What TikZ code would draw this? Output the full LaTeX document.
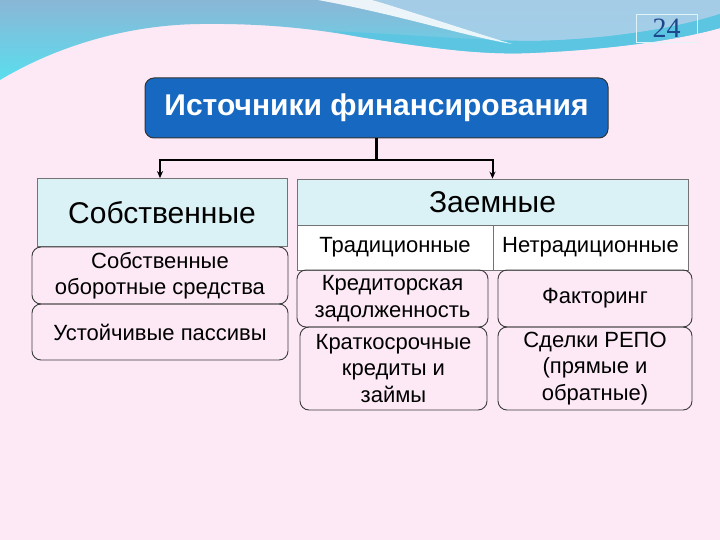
\documentclass[tikz,border=0pt]{standalone}
\usepackage{fontspec}
\setmainfont{Liberation Sans}
\newfontfamily\numfont{Liberation Serif}
\usetikzlibrary{arrows.meta}
\definecolor{bgpink}{RGB}{252,233,245}
\definecolor{hdrcyan}{RGB}{218,242,246}
\definecolor{titleblue}{RGB}{22,104,192}
\definecolor{wavetop}{RGB}{138,182,214}
\definecolor{wavebot}{RGB}{90,222,238}
\definecolor{wavelight}{RGB}{170,208,234}
\definecolor{wavestripe}{RGB}{92,198,226}
\definecolor{numblue}{RGB}{30,70,140}
\definecolor{boxline}{RGB}{60,60,60}
\tikzset{
  hdrbox/.style={draw=black!55, line width=0.8pt, fill=hdrcyan, inner sep=0pt, align=center, font=\fontsize{30}{34}\selectfont},
  cellbox/.style={draw=black!55, line width=0.8pt, fill=white, inner sep=0pt, align=center, font=\fontsize{22}{26.5}\selectfont},
  subbox/.style={draw=boxline, line width=0.9pt, rounded corners=9pt, inner sep=0pt, align=center, font=\fontsize{22}{26.5}\selectfont},
  conn/.style={line width=2.6pt, black},
  arr/.style={line width=2pt, black, -{Stealth[length=7pt,width=6pt]}}
}
\begin{document}
\begin{tikzpicture}[x=1pt,y=-1pt]
\useasboundingbox (0,0) rectangle (720,540);
\fill[bgpink] (0,0) rectangle (720,540);
% top wave
\shade[top color=wavetop, bottom color=wavebot]
  (0,0) -- (720,0) -- (720,28) .. controls (670,42) and (600,50) .. (530,53)
  .. controls (480,55) and (430,48) .. (360,37)
  .. controls (330,32) and (280,23) .. (200,24)
  .. controls (120,25) and (50,50) .. (0,80) -- cycle;
\fill[wavelight, opacity=0.85]
  (372,0) -- (720,0) -- (720,14) .. controls (670,30) and (600,40) .. (530,41)
  .. controls (522,41) and (516,42) .. (512,44)
  .. controls (460,28) and (400,8) .. (372,0) -- cycle;
\fill[wavestripe]
  (720,14) .. controls (670,30) and (600,40) .. (530,41)
  .. controls (470,40) and (400,34) .. (330,31)
  .. controls (340,33) and (350,35) .. (360,37)
  .. controls (430,48) and (480,55) .. (530,53)
  .. controls (600,50) and (670,42) .. (720,28) -- cycle;
\fill[white, opacity=0.85] (318,0) .. controls (400,15) and (460,35) .. (512,44)
  .. controls (460,28) and (400,8) .. (372,0) -- cycle;
% page number
\node[draw=white!80!wavestripe, line width=0.8pt, minimum width=61pt, minimum height=28pt, inner sep=0pt,
  text=numblue, font=\numfont\fontsize{28}{28}\selectfont] (num) at (666.5,28) {24};
% title
\node[draw=black!80, line width=1pt, fill=titleblue, rounded corners=9pt, minimum width=463pt, minimum height=60pt,
  inner sep=0pt, text=white, font=\bfseries\fontsize{30}{34}\selectfont] (title) at (376.5,108) {Источники финансирования};
% left column
\node[hdrbox, minimum width=250pt, minimum height=68pt] (own) at (162,212.5) {Собственные};
\node[subbox, minimum width=256pt, minimum height=57pt] (own1) at (160,275.5) {Собственные\\оборотные средства};
\node[subbox, minimum width=256pt, minimum height=56pt] (own2) at (160,332) {Устойчивые пассивы};
% right column
\node[hdrbox, minimum width=391pt, minimum height=46pt] (loan) at (492.5,202) {Заемные};
\node[cellbox, minimum width=196pt, minimum height=45pt] (trad) at (395,247.5) {Традиционные};
\node[cellbox, minimum width=195pt, minimum height=45pt] (ntrad) at (590.5,247.5) {Нетрадиционные};
\node[subbox, minimum width=191pt, minimum height=57pt] (t1) at (392.5,298.5) {Кредиторская\\задолженность};
\node[subbox, minimum width=187pt, minimum height=83pt] (t2) at (393.5,368.5) {Краткосрочные\\кредиты и\\займы};
\node[subbox, minimum width=194pt, minimum height=57pt] (n1) at (595,298.5) {Факторинг};
\node[subbox, minimum width=194pt, minimum height=83pt] (n2) at (595,368.5) {Сделки РЕПО\\(прямые и\\обратные)};
% connectors
\coordinate (j) at (376.5,160);
\coordinate (jl) at (160,160);
\coordinate (jr) at (492.5,160);
\draw[conn] (title.south) -- (j);
\draw[conn] ([xshift=-1.3pt]jl) -- ([xshift=1.3pt]jr);
\draw[arr] (jl) -- (jl |- own.north);
\draw[arr] (jr) -- (loan.north);
\end{tikzpicture}
\end{document}
